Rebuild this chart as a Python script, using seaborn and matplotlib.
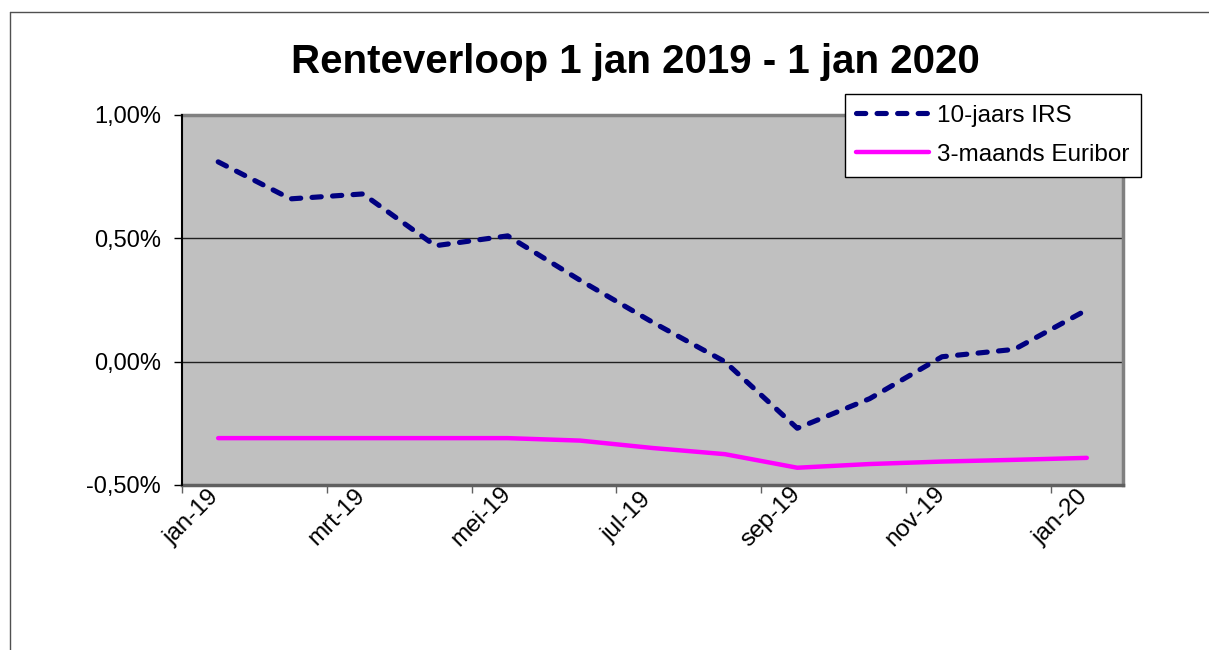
import numpy as np
import pandas as pd
import matplotlib
matplotlib.use("Agg")
import matplotlib.pyplot as plt
import matplotlib.transforms as mtransforms
from matplotlib.lines import Line2D
from matplotlib.ticker import FuncFormatter
import seaborn as sns

# ---- data ----
months = ["jan-19", "feb-19", "mrt-19", "apr-19", "mei-19", "jun-19", "jul-19",
          "aug-19", "sep-19", "okt-19", "nov-19", "dec-19", "jan-20"]
irs_10y = [0.81, 0.66, 0.68, 0.47, 0.51, 0.33, 0.16, 0.00, -0.27, -0.15, 0.02, 0.05, 0.21]
euribor_3m = [-0.31, -0.31, -0.31, -0.31, -0.31, -0.32, -0.35, -0.375, -0.43, -0.415, -0.405, -0.398, -0.39]
tick_labels = ["jan-19", "mrt-19", "mei-19", "jul-19", "sep-19", "nov-19", "jan-20"]
y_ticks = [-0.5, 0.0, 0.5, 1.0]
series_names = ["10-jaars IRS", "3-maands Euribor"]
title = "Renteverloop 1 jan 2019 - 1 jan 2020"

df = pd.DataFrame({"pos": np.arange(len(months)), "maand": months,
                   "irs": irs_10y, "euribor": euribor_3m})

sns.set_style("white")
plt.rcParams["font.family"] = ["Liberation Sans", "DejaVu Sans"]
plt.rcParams["text.color"] = "black"
plt.rcParams["xtick.color"] = "black"
plt.rcParams["ytick.color"] = "black"
plt.rcParams["xtick.labelcolor"] = "black"
plt.rcParams["ytick.labelcolor"] = "black"

W, H = 1209, 650
fig = plt.figure(figsize=(W / 100, H / 100), dpi=100)
fig.patch.set_facecolor("white")

# outer chart border (left and top visible)
fig.add_artist(Line2D([10 / W, 10 / W], [0, 1 - 12 / H], color="#505050", lw=1.0))
fig.add_artist(Line2D([10 / W, 1], [1 - 12 / H, 1 - 12 / H], color="#505050", lw=1.0))

left, right, top, bottom = 182, 1123, 115, 485
ax = fig.add_axes([left / W, 1 - bottom / H, (right - left) / W, (bottom - top) / H])
ax.set_facecolor("#C0C0C0")

sns.lineplot(data=df, x="pos", y="irs", ax=ax, color="#000080", lw=3.7,
             label=series_names[0])
sns.lineplot(data=df, x="pos", y="euribor", ax=ax, color="#FF00FF", lw=3.2,
             label=series_names[1])
l_irs, l_eur = ax.get_lines()[0], ax.get_lines()[1]
l_irs.set_dashes((1.8, 2.2))
l_irs.set_dash_capstyle("round")
l_irs.set_solid_capstyle("round")
l_eur.set_solid_capstyle("round")

ax.set_xlim(-0.5, len(months) - 0.5)
ax.set_ylim(-0.5, 1.0)
ax.set_yticks(y_ticks)
ax.yaxis.set_major_formatter(FuncFormatter(lambda v, p: f"{v:.2f}%".replace(".", ",")))
tick_pos = np.arange(len(tick_labels)) * 2 - 0.5
ax.set_xticks(tick_pos)
ax.set_xticklabels([])
offset = mtransforms.ScaledTranslation(10 / 100, -32 / 100, fig.dpi_scale_trans)
for xp, lab in zip(tick_pos, tick_labels):
    ax.text(xp, 0, lab, transform=ax.get_xaxis_transform() + offset,
            rotation=45, ha="center", va="center", fontsize=17.5, color="black")

ax.set_xlabel("")
ax.set_ylabel("")
ax.grid(False)
for y in [0.0, 0.5]:
    ax.axhline(y, color="#202020", lw=1.0, zorder=1)

ax.tick_params(axis="y", direction="out", length=6, width=1, color="black",
               labelsize=17, pad=9, left=True)
ax.tick_params(axis="x", direction="out", length=6, width=1, color="#606060",
               labelbottom=False, bottom=True)

for s in ["top", "right"]:
    ax.spines[s].set_color("#808080")
    ax.spines[s].set_linewidth(2.5)
ax.spines["bottom"].set_color("#606060")
ax.spines["bottom"].set_linewidth(2.5)
ax.spines["left"].set_color("black")
ax.spines["left"].set_linewidth(1.5)
ax.spines["left"].set_zorder(5)

fig.text(635 / W, 1 - 62 / H, title, ha="center", va="center",
         fontsize=29, fontweight="bold", color="black")

leg = ax.legend(loc="upper left", bbox_to_anchor=(845 / W, 1 - 94 / H),
                bbox_transform=fig.transFigure, fontsize=17.5, frameon=True,
                fancybox=False, edgecolor="black", framealpha=1,
                handlelength=3.0, handletextpad=0.35, labelspacing=0.7,
                borderpad=0.45, borderaxespad=0)
leg.get_frame().set_linewidth(1.0)
leg.set_zorder(10)
for t in leg.get_texts():
    t.set_color("black")

fig.savefig("out.png", dpi=100, facecolor="white")
